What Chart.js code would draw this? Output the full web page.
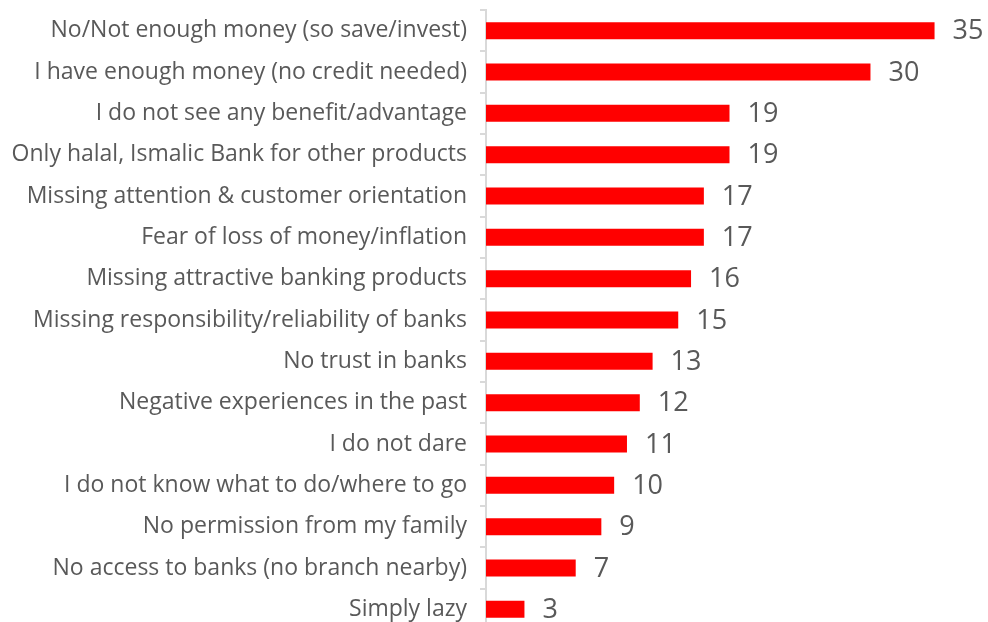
<!DOCTYPE html>
<html>
<head>
<meta charset="utf-8">
<script src="https://cdn.jsdelivr.net/npm/chart.js@4.4.0/dist/chart.umd.min.js"></script>
<style>
  html, body { margin: 0; padding: 0; background: #fff; overflow: hidden; }
  /* the list runs slightly past the bottom edge, so the canvas is taller than the page */
  #wrap { width: 988px; height: 666px; position: relative; top: -13px; }
</style>
</head>
<body>
<div id="wrap"><canvas id="reasons"></canvas></div>
<script>
/* Reasons for not using bank products - horizontal bars */
const reasons = [
  'No/Not enough money (so save/invest)',
  'I have enough money (no credit needed)',
  'I do not see any benefit/advantage',
  'Only halal, Ismalic Bank for other products',
  'Missing attention & customer orientation',
  'Fear of loss of money/inflation',
  'Missing attractive banking products',
  'Missing responsibility/reliability of banks',
  'No trust in banks',
  'Negative experiences in the past',
  'I do not dare',
  'I do not know what to do/where to go',
  'No permission from my family',
  'No access to banks (no branch nearby)',
  'Simply lazy'
];
const shares = [35, 30, 19, 19, 17, 17, 16, 15, 13, 12, 11, 10, 9, 7, 3];

const textGrey = '#595959';
const fontFamily = '"Open Sans", "Noto Sans", sans-serif';

// writes the number just past the end of each bar
const valueLabels = {
  id: 'valueLabels',
  afterDatasetsDraw(chart) {
    const ctx = chart.ctx;
    const meta = chart.getDatasetMeta(0);
    ctx.save();
    ctx.fillStyle = textGrey;
    ctx.font = '27px ' + fontFamily;
    ctx.textAlign = 'left';
    ctx.textBaseline = 'middle';
    meta.data.forEach((bar, i) => {
      ctx.fillText(shares[i], bar.x + 18, bar.y + 1);
    });
    ctx.restore();
  }
};

new Chart(document.getElementById('reasons'), {
  type: 'bar',
  data: {
    labels: reasons,
    datasets: [{
      data: shares,
      backgroundColor: '#ff0000',
      borderWidth: 0,
      categoryPercentage: 1,
      barPercentage: 0.41
    }]
  },
  options: {
    indexAxis: 'y',
    responsive: true,
    maintainAspectRatio: false,
    animation: false,
    layout: { padding: { top: 0, bottom: 0, right: 15, left: 0 } },
    plugins: {
      legend: { display: false },
      tooltip: { enabled: false }
    },
    scales: {
      x: {
        display: false,
        min: 0,
        max: 38
      },
      y: {
        afterFit(scale) { scale.width = 486; },
        border: { display: true, color: '#d9d9d9', width: 2 },
        grid: {
          drawOnChartArea: false,
          drawTicks: true,
          tickLength: 6,
          color: '#d9d9d9',
          lineWidth: 2
        },
        ticks: {
          color: textGrey,
          font: { size: 23, family: fontFamily, lineHeight: 0.87 },
          padding: 13
        }
      }
    }
  },
  plugins: [valueLabels]
});
</script>
</body>
</html>
